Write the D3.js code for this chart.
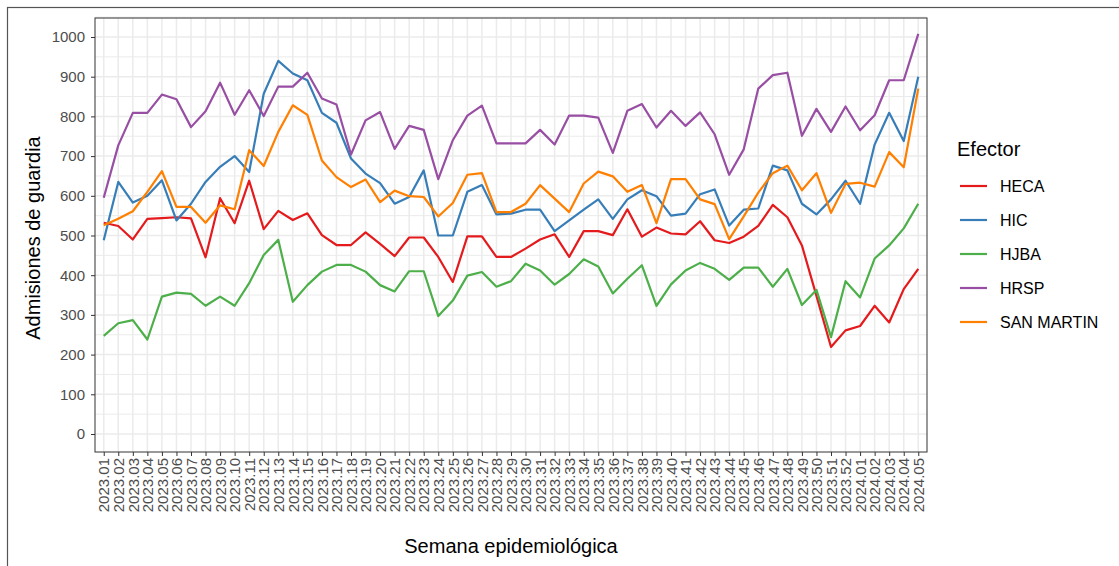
<!DOCTYPE html>
<html>
<head>
<meta charset="utf-8">
<script src="https://cdn.jsdelivr.net/npm/d3@7"></script>
<style>
  body { margin: 0; background: #fff; }
  svg { font-family: "Liberation Sans", Arial, sans-serif; display: block; }
</style>
</head>
<body>
<div id="chart"></div>
<script>
// semanas epidemiologicas
const weeks = []
for (let w = 1; w <= 52; w++) weeks.push('2023.' + String(w).padStart(2, '0'))
for (let w = 1; w <= 5; w++) weeks.push('2024.' + String(w).padStart(2, '0'))

const efectores = ['HECA', 'HIC', 'HJBA', 'HRSP', 'SAN MARTIN']
const colors = ['#E41A1C', '#377EB8', '#4DAF4A', '#984EA3', '#FF7F00']

const heca = [532, 524, 490, 542, 544, 546, 543, 445, 594, 531, 638, 516, 562, 539, 556, 501, 476, 476, 508, 479,
  448, 495, 495, 446, 383, 498, 498, 446, 446, 467, 490, 503, 446, 511, 511, 501, 566, 497, 520, 505,
  503, 536, 488, 481, 497, 524, 577, 546, 475, 348, 219, 261, 272, 323, 281, 365, 416]
const hic = [488, 635, 583, 600, 639, 538, 580, 635, 673, 700, 660, 857, 940, 908, 891, 809, 784, 694, 656, 632,
  580, 597, 664, 500, 500, 610, 627, 553, 555, 565, 565, 511, 538, 565, 591, 542, 591, 614, 599, 550,
  555, 604, 616, 525, 565, 568, 676, 664, 580, 553, 591, 638, 580, 729, 809, 738, 900]
const hjba = [247, 279, 287, 238, 346, 356, 353, 323, 346, 323, 380, 451, 489, 333, 375, 409, 426, 426, 409, 375,
  359, 410, 410, 297, 336, 399, 408, 371, 385, 429, 412, 376, 403, 440, 422, 354, 391, 425, 323, 377,
  412, 431, 416, 388, 419, 419, 371, 416, 325, 363, 244, 385, 344, 442, 475, 518, 580]
const hrsp = [595, 727, 809, 809, 855, 843, 773, 813, 885, 804, 866, 801, 875, 875, 910, 845, 830, 704, 790, 811,
  718, 776, 766, 642, 740, 802, 827, 732, 732, 732, 766, 729, 802, 802, 797, 708, 814, 831, 772, 814,
  776, 810, 755, 653, 717, 870, 904, 910, 751, 819, 761, 825, 765, 803, 891, 891, 1008]
const sanMartin = [526, 542, 561, 610, 662, 572, 572, 532, 576, 566, 715, 675, 761, 828, 804, 689, 647, 622, 641, 584,
  613, 599, 597, 548, 582, 653, 657, 559, 559, 580, 627, 593, 559, 631, 661, 649, 610, 627, 531, 642,
  642, 591, 579, 491, 548, 608, 657, 676, 614, 657, 557, 630, 633, 623, 710, 672, 870]
const series = [heca, hic, hjba, hrsp, sanMartin]

const yTicks = [0, 100, 200, 300, 400, 500, 600, 700, 800, 900, 1000]

const width = 1119
const height = 566
const panel = { left: 95, right: 927, top: 18, bottom: 452 }

const svg = d3.select('#chart').append('svg')
  .attr('width', width)
  .attr('height', height)

//outer frame
svg.append('rect')
  .attr('x', 7.5).attr('y', 7.5)
  .attr('width', width + 10).attr('height', height + 10)
  .attr('fill', 'white').attr('stroke', '#555').attr('stroke-width', 1.2)

const xScale = d3.scalePoint()
  .domain(weeks)
  .range([panel.left, panel.right])
  .padding(0.6)

const yScale = d3.scaleLinear()
  .domain([0, 1000])
  .range([434, 37])

// grid
const grid = svg.append('g')
for (let v = 50; v <= 1050; v += 100) {
  grid.append('line')
    .attr('x1', panel.left).attr('x2', panel.right)
    .attr('y1', yScale(v)).attr('y2', yScale(v))
    .attr('stroke', '#ebebeb').attr('stroke-width', 1)
}
yTicks.forEach(function(v) {
  grid.append('line')
    .attr('x1', panel.left).attr('x2', panel.right)
    .attr('y1', yScale(v)).attr('y2', yScale(v))
    .attr('stroke', '#ebebeb').attr('stroke-width', 1.5)
})
weeks.forEach(function(w) {
  grid.append('line')
    .attr('x1', xScale(w)).attr('x2', xScale(w))
    .attr('y1', panel.top).attr('y2', panel.bottom)
    .attr('stroke', '#ebebeb').attr('stroke-width', 1.5)
})

// lines
const line = d3.line()
  .x(function(d, i) { return xScale(weeks[i]) })
  .y(function(d) { return yScale(d) })

series.forEach(function(s, k) {
  svg.append('path')
    .datum(s)
    .attr('d', line)
    .attr('fill', 'none')
    .attr('stroke', colors[k])
    .attr('stroke-width', 2.2)
    .attr('stroke-linejoin', 'round')
})

svg.append('rect')
  .attr('x', panel.left).attr('y', panel.top)
  .attr('width', panel.right - panel.left).attr('height', panel.bottom - panel.top)
  .attr('fill', 'none').attr('stroke', '#333').attr('stroke-width', 1)

// axes
const yAxis = svg.append('g')
  .attr('transform', 'translate(' + panel.left + ',0)')
  .call(d3.axisLeft(yScale).tickValues(yTicks).tickFormat(d3.format('d')).tickSize(4).tickPadding(6))
yAxis.select('.domain').remove()
yAxis.selectAll('line').attr('stroke', '#333')
yAxis.selectAll('text').attr('fill', '#4d4d4d').style('font-size', '15px')

const xAxis = svg.append('g')
  .attr('transform', 'translate(0,' + panel.bottom + ')')
  .call(d3.axisBottom(xScale).tickSize(4).tickPadding(3))
xAxis.select('.domain').remove()
xAxis.selectAll('line').attr('stroke', '#333')
xAxis.selectAll('text')
  .attr('fill', '#4d4d4d')
  .style('font-size', '15px')
  .attr('transform', 'rotate(-90)')
  .attr('text-anchor', 'end')
  .attr('dy', '0.35em')
  .attr('x', -6)
  .attr('y', 0)

svg.append('text')
  .attr('transform', 'rotate(-90)')
  .attr('x', -238)
  .attr('y', 40)
  .attr('text-anchor', 'middle')
  .style('font-size', '20px')
  .text('Admisiones de guardia')

svg.append('text')
  .attr('x', 511)
  .attr('y', 553)
  .attr('text-anchor', 'middle')
  .style('font-size', '20px')
  .text('Semana epidemiológica')

// legend
const legend = svg.append('g').attr('transform', 'translate(957,0)')
legend.append('text')
  .attr('x', 0).attr('y', 156)
  .style('font-size', '20px')
  .text('Efector')
efectores.forEach(function(e, k) {
  const y = 186 + k * 34
  legend.append('line')
    .attr('x1', 3).attr('x2', 30)
    .attr('y1', y).attr('y2', y)
    .attr('stroke', colors[k]).attr('stroke-width', 2.2)
  legend.append('text')
    .attr('x', 43).attr('y', y)
    .attr('dy', '0.35em')
    .style('font-size', '16px')
    .text(e)
})
</script>
</body>
</html>
